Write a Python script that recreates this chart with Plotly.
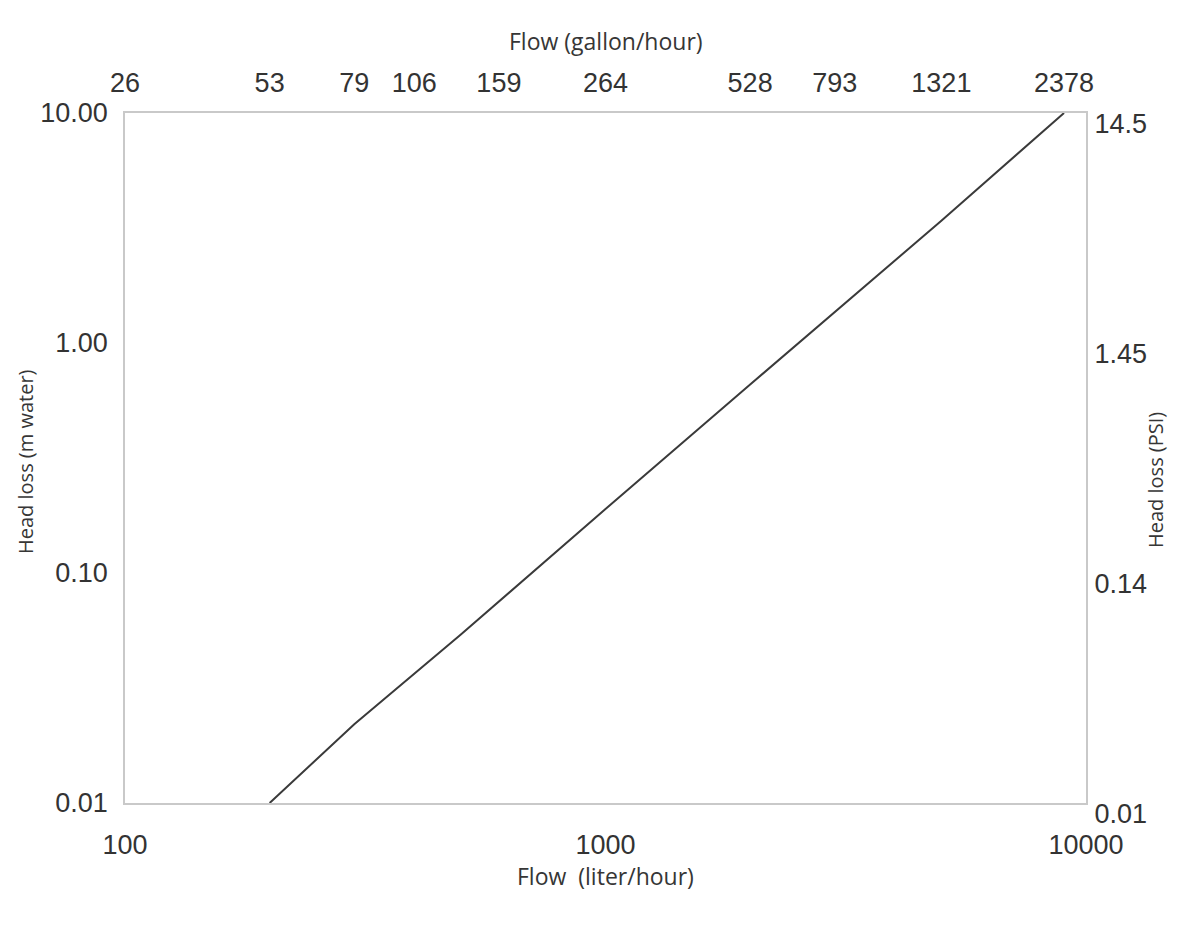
import plotly.graph_objects as go

# ---- data ----
flow_lph = [200, 300, 500, 1000, 2000, 5000, 9000]          # liter/hour
head_m = [0.01, 0.022, 0.054, 0.19, 0.66, 3.4, 10.0]        # m water

x_ticks = [100, 1000, 10000]
x_ticklabels = ["100", "1000", "10000"]

# gallon/hour labels on the top axis, placed at their liter/hour equivalents
gal_ticklabels = ["26", "53", "79", "106", "159", "264", "528", "793", "1321", "2378"]
gal_tick_liters = [100, 200, 300, 400, 600, 1000, 2000, 3000, 5000, 9000]

y_ticks = [0.01, 0.1, 1, 10]
y_ticklabels = ["0.01", "0.10", "1.00", "10.00"]
psi_ticklabels = ["0.01", "0.14", "1.45", "14.5"]

TICK_FONT = dict(family="Liberation Sans, Arial, sans-serif", size=27, color="#333333")
TITLE_FONT = dict(family="Open Sans, sans-serif", size=23, color="#363636")
FRAME = "#c9c9c9"

fig = go.Figure()
fig.add_trace(go.Scatter(x=flow_lph, y=head_m, mode="lines",
                         line=dict(color="#3a3a3a", width=2), showlegend=False,
                         hoverinfo="x+y"))
# companion trace so the secondary axes are drawn
fig.add_trace(go.Scatter(x=flow_lph, y=head_m, mode="lines", xaxis="x2", yaxis="y2",
                         line=dict(color="rgba(0,0,0,0)", width=0), showlegend=False,
                         hoverinfo="skip"))

fig.update_layout(
    width=1184, height=911,
    margin=dict(l=117, r=106, t=105, b=116),
    paper_bgcolor="white", plot_bgcolor="white",
    showlegend=False,
    xaxis=dict(type="log", range=[2, 4], tickmode="array", tickvals=x_ticks,
               ticktext=x_ticklabels, tickfont=TICK_FONT, showgrid=False,
               zeroline=False, showline=True, linecolor=FRAME, linewidth=1.5,
               mirror=True, ticks="outside", ticklen=17, tickcolor="rgba(0,0,0,0)"),
    xaxis2=dict(type="log", range=[2, 4], overlaying="x", side="top", anchor="y",
                tickmode="array", tickvals=gal_tick_liters, ticktext=gal_ticklabels,
                tickfont=TICK_FONT, showgrid=False, zeroline=False, showline=False,
                ticks="outside", ticklen=9, tickcolor="rgba(0,0,0,0)"),
    yaxis=dict(type="log", range=[-2, 1], tickmode="array", tickvals=y_ticks,
               ticktext=y_ticklabels, tickfont=TICK_FONT, showgrid=False,
               zeroline=False, showline=True, linecolor=FRAME, linewidth=1.5,
               mirror=True, ticks="outside", ticklen=10, tickcolor="rgba(0,0,0,0)"),
    yaxis2=dict(type="log", range=[-2, 1], overlaying="y", side="right", anchor="x",
                tickmode="array", tickvals=y_ticks, ticktext=psi_ticklabels,
                tickfont=TICK_FONT, showgrid=False, zeroline=False, showline=False,
                ticks="outside", ticklen=2, tickcolor="rgba(0,0,0,0)",
                ticklabelshift=11),
    annotations=[
        dict(text="Flow (gallon/hour)", xref="paper", yref="paper", x=0.5, y=1,
             xanchor="center", yanchor="middle", yshift=72, showarrow=False,
             font=TITLE_FONT),
        dict(text="Flow \u00a0(liter/hour)", xref="paper", yref="paper", x=0.5, y=0,
             xanchor="center", yanchor="middle", yshift=-73, showarrow=False,
             font=TITLE_FONT),
        dict(text="Head loss (m water)", xref="paper", yref="paper", x=0, y=0.5,
             xanchor="center", yanchor="middle", xshift=-100, yshift=-4, textangle=-90,
             showarrow=False, font=dict(TITLE_FONT, size=20)),
        dict(text="Head loss (PSI)", xref="paper", yref="paper", x=1, y=0.5,
             xanchor="center", yanchor="middle", xshift=69, yshift=-22, textangle=-90,
             showarrow=False, font=dict(TITLE_FONT, size=20)),
    ],
)

fig.write_html("out.html")
